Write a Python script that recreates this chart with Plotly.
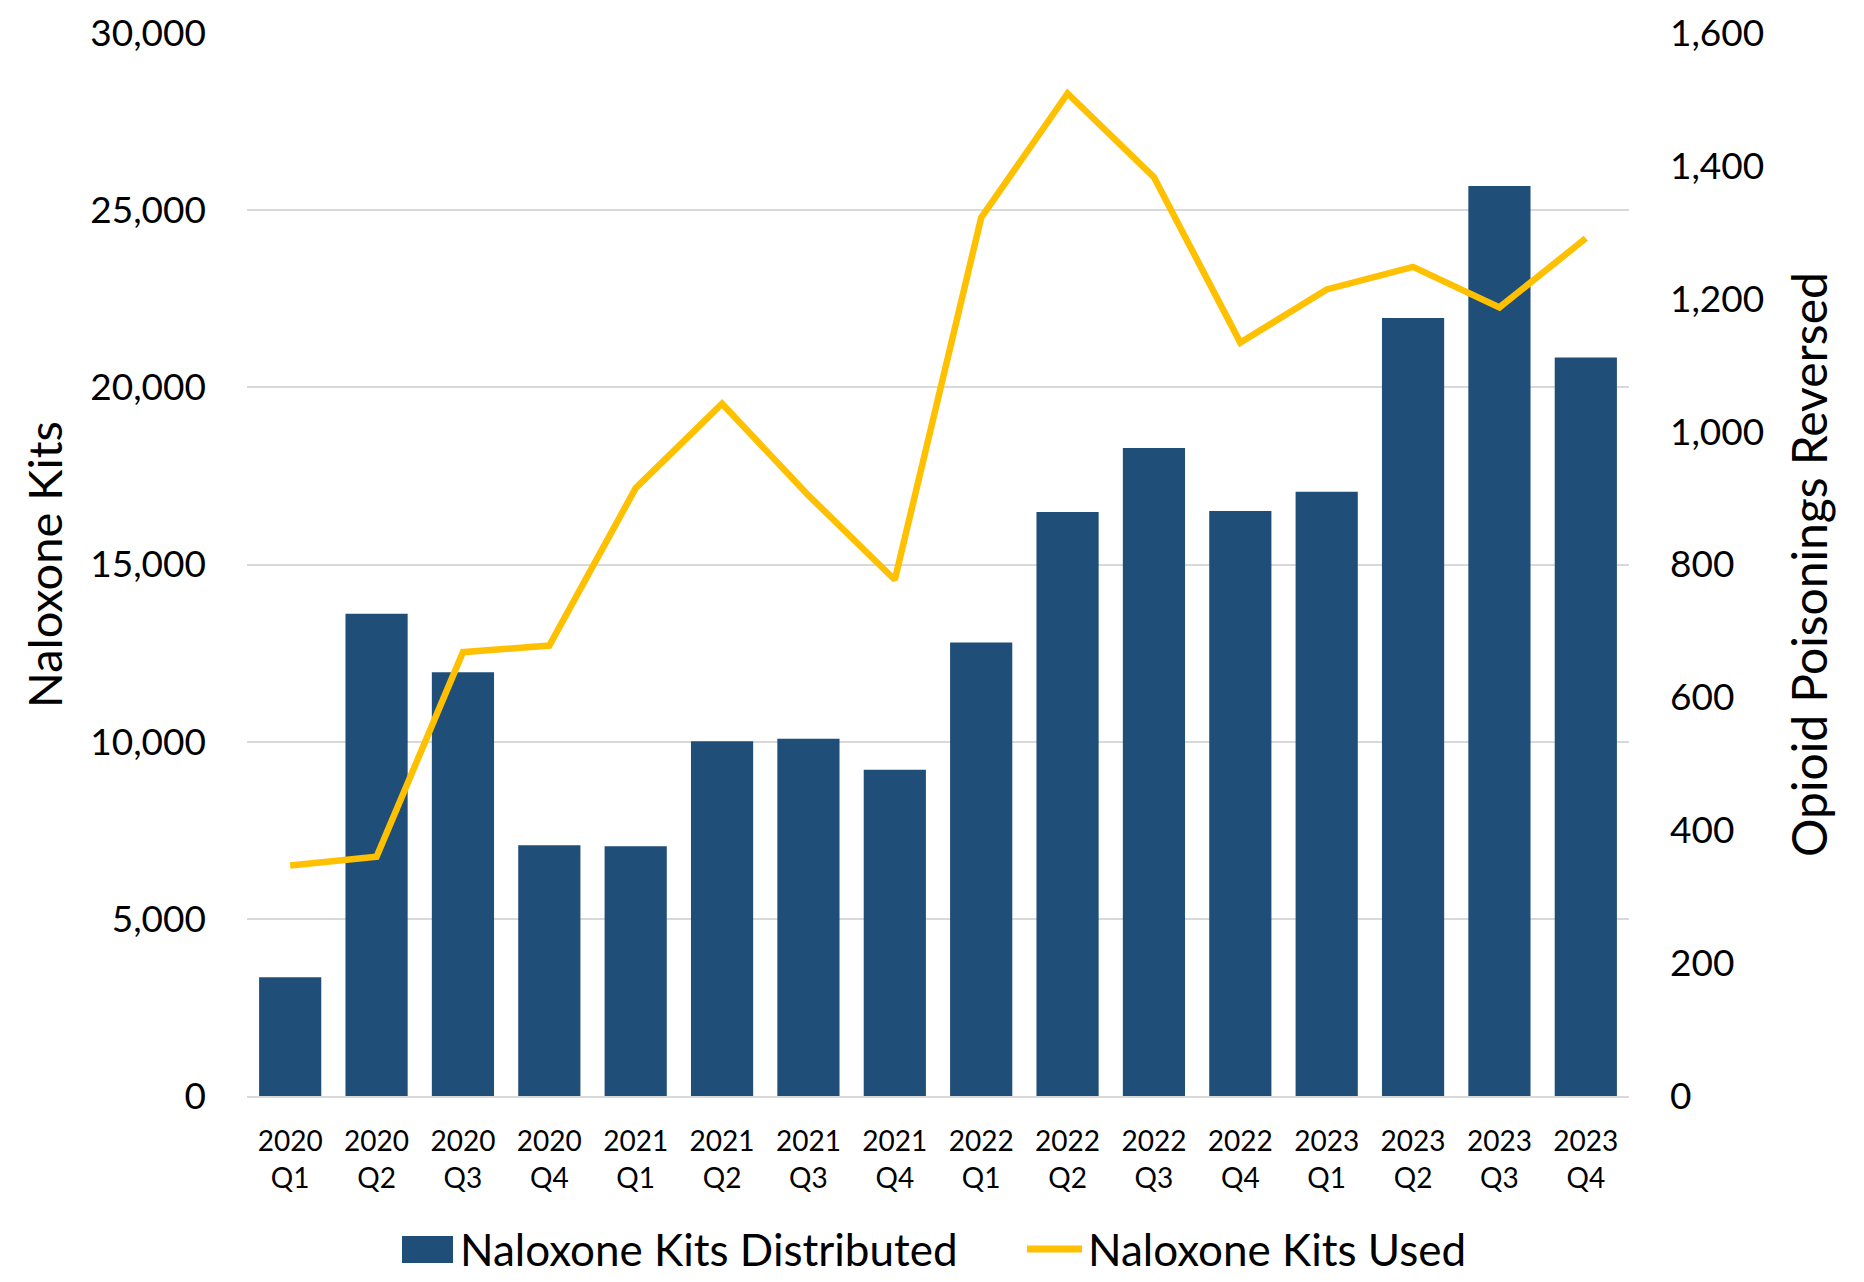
import plotly.graph_objects as go

# Quarter labels (two lines: year / quarter)
years = ['2020', '2020', '2020', '2020', '2021', '2021', '2021', '2021',
         '2022', '2022', '2022', '2022', '2023', '2023', '2023', '2023']
quarters = ['Q1', 'Q2', 'Q3', 'Q4'] * 4
labels = [y + '<br>' + q for y, q in zip(years, quarters)]

# Naloxone kits distributed (left axis)
kits_distributed = [3350, 13610, 11960, 7080, 7050, 10010, 10080, 9210,
                    12800, 16480, 18290, 16510, 17050, 21960, 25680, 20840]

# Naloxone kits used / opioid poisonings reversed (right axis)
kits_used = [347, 360, 668, 678, 915, 1042, 904, 777,
             1322, 1509, 1383, 1134, 1214, 1248, 1187, 1291]

series_names = ['Naloxone Kits Distributed', 'Naloxone Kits Used']
bar_color = '#1F4E79'
line_color = '#FFC000'
fnt = 'Lato'

W, H = 1864, 1282
L, R, T, B = 247, 235, 33, 186

# pixel -> paper coords helpers (for the hand-built legend)
def px(x):
    return (x - L) / (W - L - R)

def py(y):
    return (H - B - y) / (H - T - B)

fig = go.Figure()

fig.add_trace(go.Bar(
    x = labels,
    y = kits_distributed,
    name = series_names[0],
    marker_color = bar_color,
    marker_line_width = 0,
    showlegend = False
))

fig.add_trace(go.Scatter(
    x = labels,
    y = kits_used,
    name = series_names[1],
    yaxis = 'y2',
    mode = 'lines',
    line = dict(color = line_color, width = 6.5),
    showlegend = False
))

# Legend drawn by hand so the swatches match the original size
fig.add_shape(type = 'rect', xref = 'paper', yref = 'paper',
              x0 = px(402), x1 = px(453), y0 = py(1263), y1 = py(1236),
              fillcolor = bar_color, line_width = 0)
fig.add_shape(type = 'line', xref = 'paper', yref = 'paper',
              x0 = px(1027), x1 = px(1082), y0 = py(1249), y1 = py(1249),
              line = dict(color = line_color, width = 7))
fig.add_annotation(text = series_names[0], xref = 'paper', yref = 'paper',
                   x = px(458), y = py(1249), xanchor = 'left', yanchor = 'middle',
                   showarrow = False, font = dict(size = 44, family = fnt, color = 'black'))
fig.add_annotation(text = series_names[1], xref = 'paper', yref = 'paper',
                   x = px(1086), y = py(1249), xanchor = 'left', yanchor = 'middle',
                   showarrow = False, font = dict(size = 44, family = fnt, color = 'black'))

fig.update_layout(
    width = W,
    height = H,
    plot_bgcolor = 'white',
    paper_bgcolor = 'white',
    margin = dict(l = L, r = R, t = T, b = B),
    bargap = 0.28,
    font = dict(family = fnt, color = 'black'),
    showlegend = False,
    xaxis = dict(
        tickfont = dict(size = 28, family = fnt, color = 'black'),
        showgrid = False,
        showline = True,
        linecolor = '#D9D9D9',
        linewidth = 1.5,
        ticks = '',
        ticklabelstandoff = 20,
        automargin = False
    ),
    yaxis = dict(
        range = [0, 30000],
        dtick = 5000,
        tickformat = ',',
        tickfont = dict(size = 37, family = fnt, color = 'black'),
        showgrid = True,
        gridcolor = '#D9D9D9',
        gridwidth = 1.5,
        zeroline = False,
        ticklabelstandoff = 40,
        automargin = False,
        title = dict(text = 'Naloxone Kits', font = dict(size = 47, family = fnt, color = 'black'), standoff = 12)
    ),
    yaxis2 = dict(
        range = [0, 1600],
        dtick = 200,
        tickformat = ',',
        tickfont = dict(size = 37, family = fnt, color = 'black'),
        overlaying = 'y',
        side = 'right',
        showgrid = False,
        zeroline = False,
        ticklabelstandoff = 40,
        automargin = False,
        title = dict(text = 'Opioid Poisonings Reversed', font = dict(size = 48, family = fnt, color = 'black'), standoff = 30)
    )
)

# drop the browser's default 8px body margin so the figure sits at the page corner
fig.write_html('out.html', config = {'displayModeBar': False},
               post_script = "document.body.style.margin = '0';")
